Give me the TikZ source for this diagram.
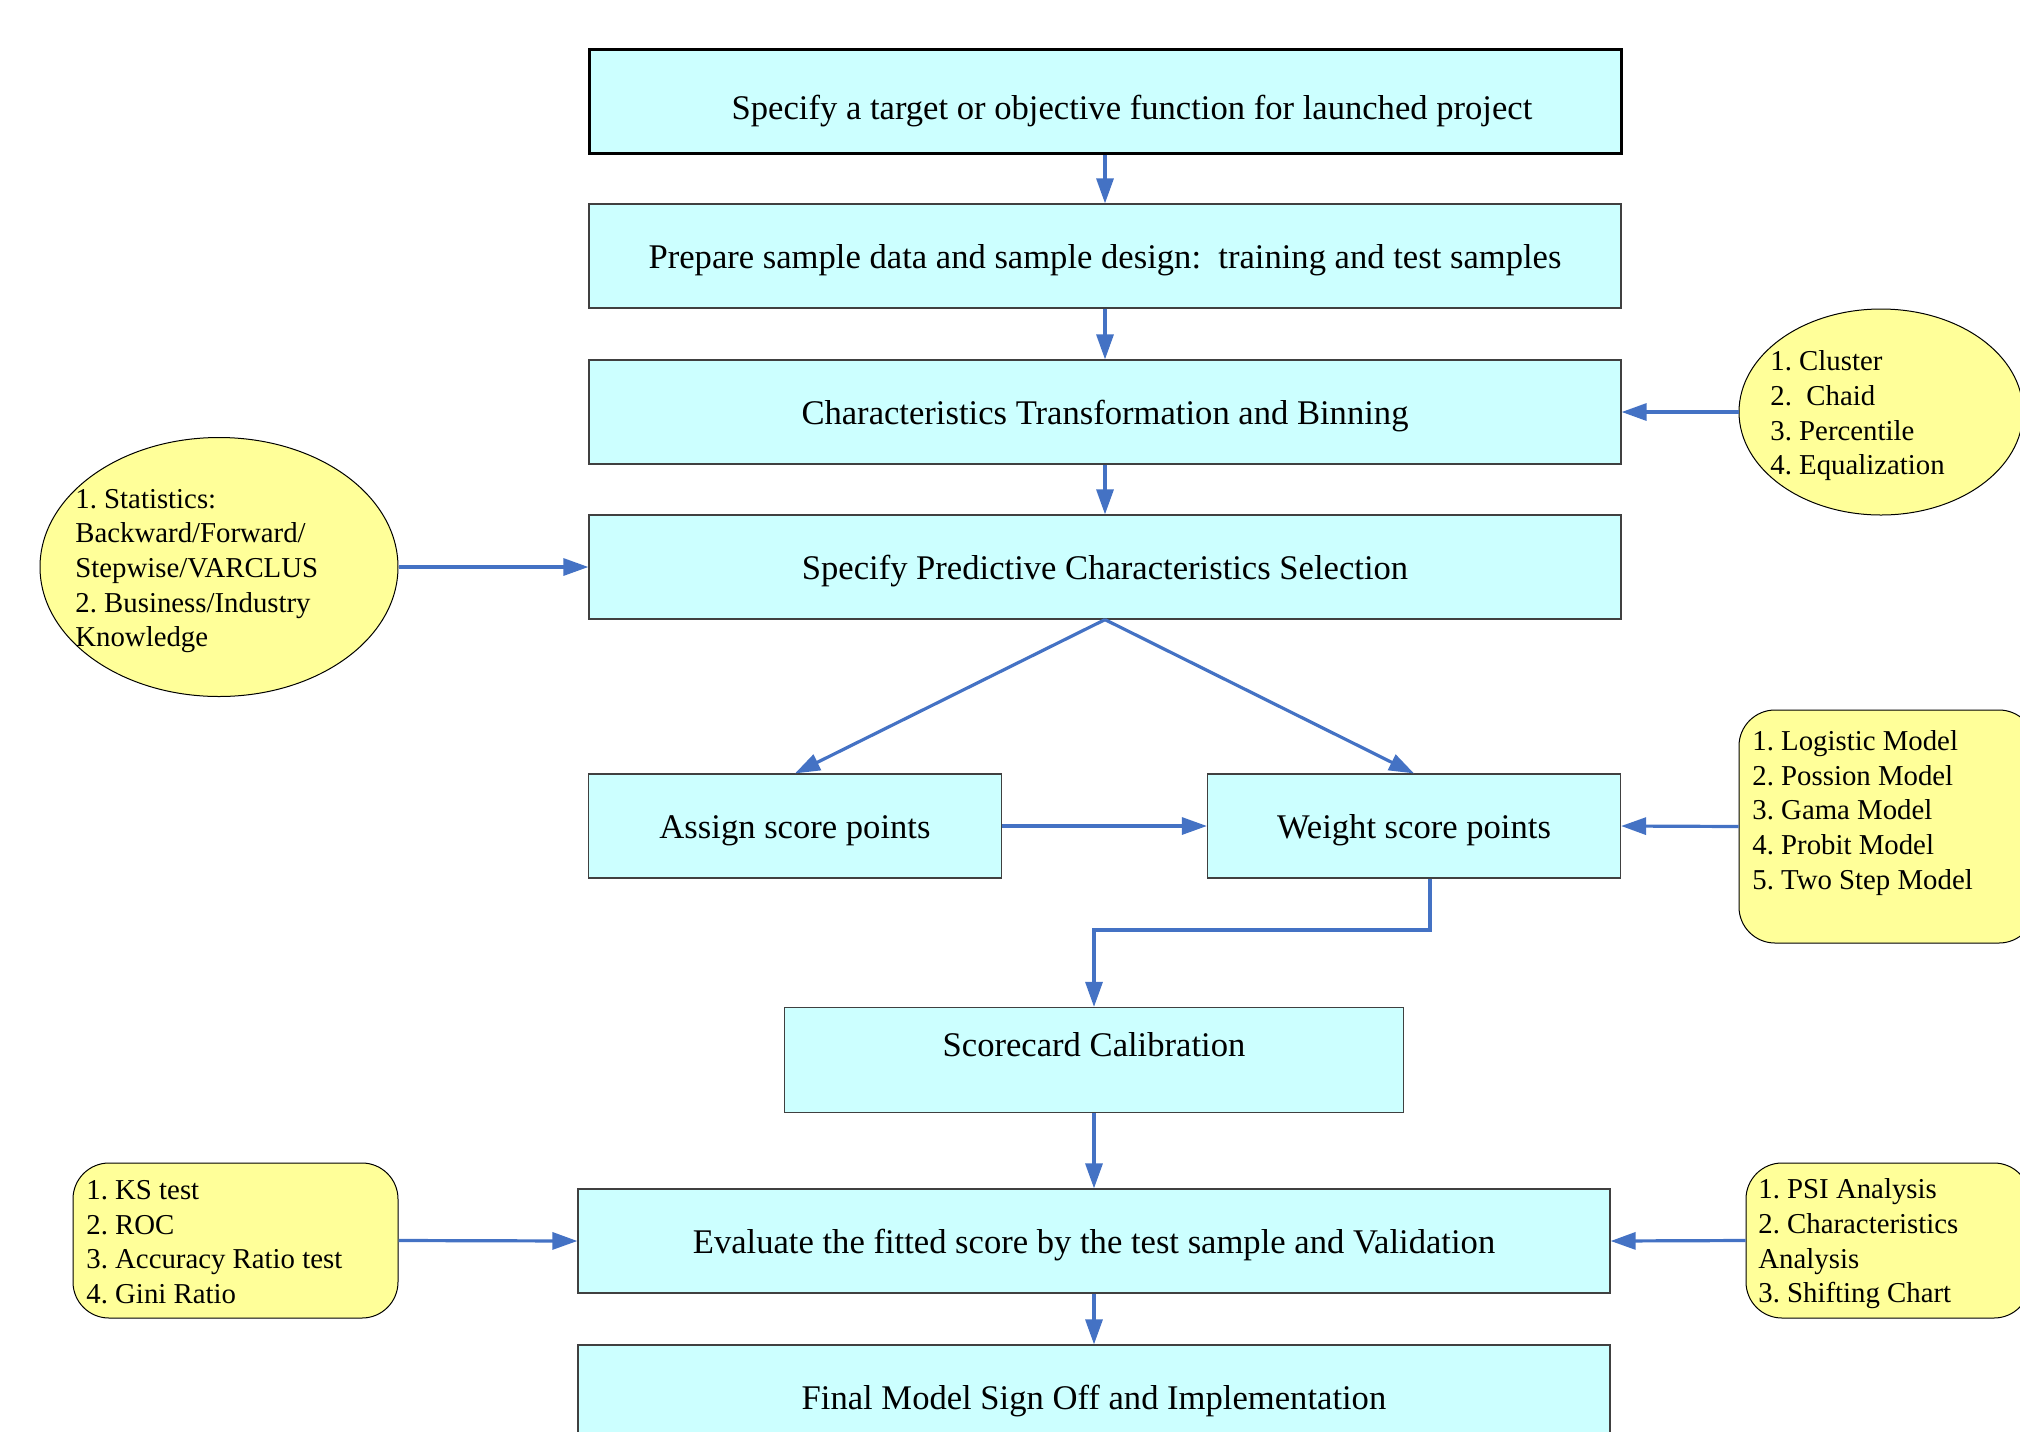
\documentclass[tikz,border=0pt]{standalone}
\usepackage{fontspec}
\setmainfont{Liberation Serif}
\usetikzlibrary{arrows.meta,shapes.geometric}
\definecolor{boxfill}{HTML}{CCFFFF}
\definecolor{notefill}{HTML}{FFFF99}
\definecolor{arrowblue}{HTML}{4472C4}
\frenchspacing
\tikzset{
  mainbox/.style={draw=black!75, line width=0.6pt, fill=boxfill, rectangle,
    minimum width=516pt, minimum height=52pt, inner sep=0pt,
    font=\fontsize{17.3}{20}\selectfont, text height=16pt, text depth=4pt},
  smallbox/.style={mainbox, minimum width=206.5pt},
  notetext/.style={anchor=west, align=left, inner sep=0pt,
    font=\fontsize{14.4}{17.35}\selectfont},
  noteell/.style={draw=black, line width=0.5pt, fill=notefill, ellipse, inner sep=0pt},
  noterr/.style={draw=black, line width=0.5pt, fill=notefill, rectangle, rounded corners=18pt, inner sep=0pt},
  arr/.style={draw=arrowblue, line width=1.6pt, -{Triangle[length=12.5pt,width=8.5pt]}}
}
\begin{document}
\begin{tikzpicture}[x=0.5pt,y=-0.5pt]
\useasboundingbox (0,0) rectangle (2020,1431);
\clip (0,0) rectangle (2020,1431);
% main boxes
\node[mainbox, draw=black, line width=1.5pt, text height=22pt] (b1) at (1105,101) {\hspace*{27pt}Specify a target or objective function for launched project};
\node[mainbox] (b2) at (1105,256) {Prepare sample data and sample design:\ \ training and test samples};
\node[mainbox] (b3) at (1105,412) {Characteristics Transformation and Binning};
\node[mainbox] (b4) at (1105,567) {Specify Predictive Characteristics Selection};
\node[smallbox] (as) at (795,826) {Assign score points};
\node[smallbox] (w) at (1414,826) {Weight score points};
\node[mainbox, minimum width=309.5pt, minimum height=52.5pt, text depth=19.7pt] (sc) at (1094,1060) {Scorecard Calibration};
\node[mainbox] (ev) at (1094,1241) {Evaluate the fitted score by the test sample and Validation};
\node[mainbox] (fin) at (1094,1397) {Final Model Sign Off and Implementation};
% side notes
\node[noteell, minimum width=179pt, minimum height=129.5pt] (sel) at (219,567) {};
\node[notetext] (seltext) at (75,571) {1. Statistics:\\Backward/Forward/\\Stepwise/VARCLUS\\2. Business/Industry\\Knowledge};
\node[noteell, minimum width=142pt, minimum height=103pt] (clu) at (1881,412) {};
\node[notetext] (clutext) at (1770,416) {1. Cluster\\2.\ \ Chaid\\3. Percentile\\4. Equalization};
\node[noterr, minimum width=148pt, minimum height=116.5pt] (mod) at (1887,826.5) {};
\node[notetext] (modtext) at (1752,813) {1. Logistic Model\\2. Possion Model\\3. Gama Model\\4. Probit Model\\5. Two Step Model};
\node[noterr, minimum width=162.5pt, minimum height=77.5pt] (ks) at (235.5,1240.5) {};
\node[notetext] (kstext) at (86,1242) {1. KS test\\2. ROC\\3. Accuracy Ratio test\\4. Gini Ratio};
\node[noterr, minimum width=142pt, minimum height=77.5pt] (psi) at (1888,1240.5) {};
\node[notetext] (psitext) at (1758,1244) {1. PSI Analysis\\2. Characteristics\\Analysis\\3. Shifting Chart};
% connectors
\draw[arr] (b1) -- (b2);
\draw[arr] (b2) -- (b3);
\draw[arr] (b3) -- (b4);
\draw[arr] (b4.south) -- (as.north);
\draw[arr] (b4.south) -- (w.north);
\draw[arr] (as) -- (w);
\draw[arr] (clu.west) -- (b3.east);
\draw[arr] (sel.east) -- (b4.west);
\draw[arr] (mod.west) -- (w.east);
\coordinate (elbow) at (1430,930);
\draw[arr] ([xshift=8pt]w.south) -- (elbow) -| (sc.north);
\draw[arr] (sc) -- (ev);
\draw[arr] (ks.east) -- (ev.west);
\draw[arr] (psi.west) -- (ev.east);
\draw[arr] (ev) -- (fin);
\end{tikzpicture}
\end{document}
